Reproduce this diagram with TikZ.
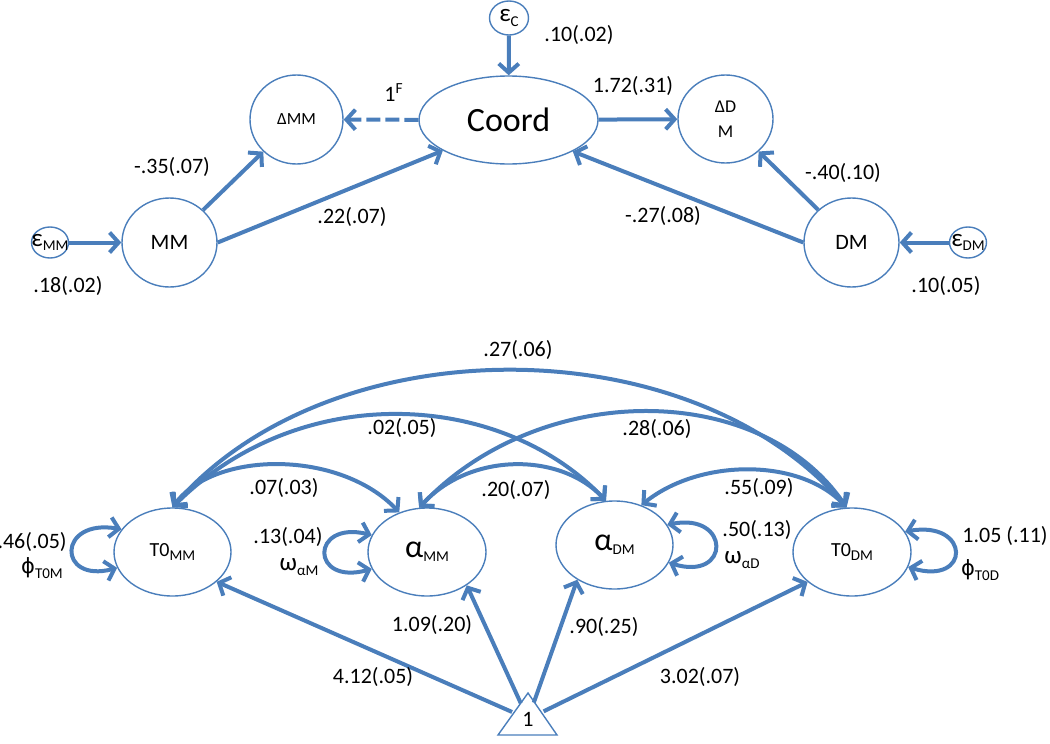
\documentclass[tikz,border=0pt]{standalone}
\usepackage{fontspec}
\setmainfont{Carlito}
\newfontfamily\dvs{DejaVu Sans}
\usetikzlibrary{arrows.meta,shapes.geometric}
\definecolor{lb}{RGB}{74,126,187}
\newcommand\subx[1]{\raisebox{-2.2pt}{\fontsize{7.5}{8}\selectfont #1}}
\newcommand\phx{{\dvs\fontsize{10.5}{12}\selectfont ϕ}}
\begin{document}
\begin{tikzpicture}[x=0.5pt,y=-0.5pt,
  tip/.tip={Straight Barb[length=4.5pt,width=10pt]},
  conn/.style={draw=lb, line width=2pt, -tip},
  cov/.style={draw=lb, line width=2pt, tip-tip},
  lat/.style={draw=lb, line width=0.7pt, ellipse, inner sep=0pt, fill=white},
  lbl/.style={font=\fontsize{11}{13}\selectfont, inner sep=0pt},
  eps/.style={lat, minimum width=18.5pt, minimum height=15.5pt},
]
\useasboundingbox (0,0) rectangle (1050,744);

% ---------- top model ----------
\node[lat, minimum width=19.5pt, minimum height=17pt,
  label={[lbl,font=\fontsize{12.5}{13}\selectfont]center:ε\subx{C}}] (eC) at (509,18) {};
\node[lat, minimum width=89.5pt, minimum height=44pt, font=\fontsize{17}{20}\selectfont] (Coord) at (508.5,120) {Coord};
\node[lat, minimum width=46.5pt, minimum height=44.5pt, font=\fontsize{8.5}{10}\selectfont] (dMM) at (296.5,119.5) {ΔMM};
\node[lat, minimum width=47.5pt, minimum height=44pt, font=\fontsize{9}{12.5}\selectfont, align=center] (dDM) at (725.5,119) {ΔD\\M};
\node[lat, minimum width=47.5pt, minimum height=44.5pt, font=\fontsize{11}{13}\selectfont] (MM) at (169.5,242.5) {MM};
\node[lat, minimum width=47.5pt, minimum height=44.5pt, font=\fontsize{11}{13}\selectfont] (DM) at (851.5,242.5) {DM};
\node[eps, label={[lbl,font=\fontsize{12.5}{13}\selectfont]center:ε\subx{MM}}] (eMM) at (50,242.5) {};
\node[eps, label={[lbl,font=\fontsize{12.5}{13}\selectfont]center:ε\subx{DM}}] (eDM) at (968,242.5) {};

\draw[conn] (eC) -- (Coord);
\draw[conn] (eMM) -- (MM);
\draw[conn] (eDM) -- (DM);
\draw[conn] (Coord) -- (dDM);
\draw[conn, dash pattern=on 7pt off 2.5pt] (Coord) -- (dMM);
\draw[conn] (MM) -- (dMM);
\draw[conn] (MM.east) -- (Coord.205);
\draw[conn] (DM.west) -- (Coord.-26);
\draw[conn] (DM) -- (dDM);

\node[lbl] (t1) at (579,35) {.10(.02)};
\node[lbl] (t2) at (394,93) {1\textsuperscript{F}};
\node[lbl] (t3) at (633,86) {1.72(.31)};
\node[lbl] (t4) at (172,167) {-.35(.07)};
\node[lbl] (t5) at (352,217) {.22(.07)};
\node[lbl] (t6) at (68,286) {.18(.02)};
\node[lbl] (t7) at (843,173) {-.40(.10)};
\node[lbl] (t8) at (663,216) {-.27(.08)};
\node[lbl] (t9) at (946,286) {.10(.05)};

% ---------- bottom model ----------
\node[lat, minimum width=58.5pt, minimum height=44pt, font=\fontsize{10}{12}\selectfont] (T0MM) at (172.5,552) {T0\subx{MM}};
\node[lat, minimum width=59pt, minimum height=44pt, font=\fontsize{16}{18}\selectfont] (aMM) at (427,552) {α\subx{MM}};
\node[lat, minimum width=58.5pt, minimum height=44pt, font=\fontsize{16}{18}\selectfont] (aDM) at (614.5,545) {α\subx{DM}};
\node[lat, minimum width=59pt, minimum height=44pt, font=\fontsize{10}{12}\selectfont] (T0DM) at (852,552) {T0\subx{DM}};
\node[circle, inner sep=0pt, minimum size=17pt, font=\fontsize{11}{13}\selectfont] (one) at (528,719) {1};
\draw[draw=lb, line width=0.7pt] (528,693) -- (557,735) -- (498,735) -- cycle;

\draw[conn] (one) -- (T0MM.-34);
\draw[conn] (one) -- (aMM.-40);
\draw[conn] (one) -- (aDM.223);
\draw[conn] (one) -- (T0DM.214);

\draw[cov] (T0MM.156) .. controls (57,518) and (57,584) .. (T0MM.196);
\draw[cov] (aMM.163) .. controls (310,520) and (310,586) .. (aMM.197);
\draw[cov] (aDM.21) .. controls (731,512) and (731,582) .. (aDM.-18);
\draw[cov] (T0DM.21) .. controls (971,520) and (971,586) .. (T0DM.-15);

\draw[cov] (T0MM.north) .. controls (330,325) and (690,325) .. (T0DM.97);
\draw[cov] (T0MM.north) .. controls (300,380) and (500,390) .. (aDM.101);
\draw[cov] (aMM.100) .. controls (540,380) and (760,380) .. (T0DM.97);
\draw[cov] (T0MM.north) .. controls (215,450) and (340,450) .. (aMM.125);
\draw[cov] (aMM.100) .. controls (470,452) and (560,452) .. (aDM.101);
\draw[cov] (aDM.56) .. controls (700,458) and (800,458) .. (T0DM.97);

\node[lbl, anchor=east] (b1) at (67,542) {.46(.05)};
\node[lbl] (b2) at (42,568) {\phx\subx{T0M}};
\node[lbl] (b3) at (288,537) {.13(.04)};
\node[lbl, font=\fontsize{12.5}{13}\selectfont] (b4) at (299,567) {ω\subx{αM}};
\node[lbl] (b5) at (284,488) {.07(.03)};
\node[lbl] (b6) at (402,428) {.02(.05)};
\node[lbl] (b7) at (518,350) {.27(.06)};
\node[lbl] (b8) at (657,429) {.28(.06)};
\node[lbl] (b9) at (516,490) {.20(.07)};
\node[lbl] (b10) at (759,488) {.55(.09)};
\node[lbl] (b11) at (757,530) {.50(.13)};
\node[lbl, font=\fontsize{12.5}{13}\selectfont] (b12) at (742,560) {ω\subx{αD}};
\node[lbl, anchor=east] (b13) at (1048,536) {1.05 (.11)};
\node[lbl] (b14) at (980,570) {\phx\subx{T0D}};
\node[lbl] (b15) at (432,625) {1.09(.20)};
\node[lbl] (b16) at (373,677) {4.12(.05)};
\node[lbl] (b17) at (604,627) {.90(.25)};
\node[lbl] (b18) at (700,677) {3.02(.07)};
\end{tikzpicture}
\end{document}
